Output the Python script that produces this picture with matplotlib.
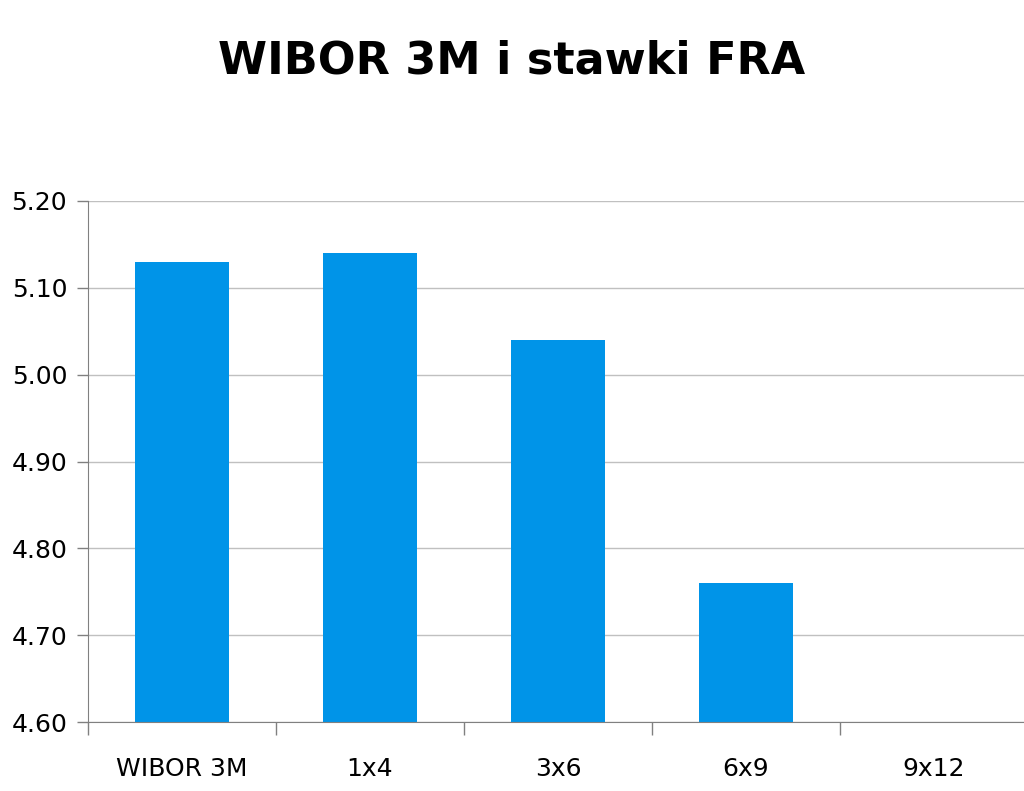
import numpy as np
import matplotlib
matplotlib.use("Agg")
from matplotlib import pyplot as plt

categories = ["WIBOR 3M", "1x4", "3x6", "6x9", "9x12"]
values = [5.13, 5.14, 5.04, 4.76, 4.60]
yticks = [4.60, 4.70, 4.80, 4.90, 5.00, 5.10, 5.20]

plt.rcParams['font.family'] = ['DejaVu Sans']

fig = plt.figure(figsize=(10.24, 7.91), dpi=100)
ax = fig.add_axes([88 / 1024, 69 / 791, 940 / 1024, 521 / 791])

x = np.arange(len(categories))
ax.bar(x, values, width=0.5, color='#0094E8', zorder=3)

ax.set_ylim(4.60, 5.20)
ax.set_xlim(-0.5, len(categories) - 0.5)
ax.set_yticks(yticks)
ax.set_yticklabels([f"{v:.2f}" for v in yticks], fontsize=18)
ax.grid(axis='y', color='#c0c0c0', linewidth=1, zorder=0)

# category labels without ticks, tick marks between categories
ax.set_xticks(x)
ax.set_xticklabels(categories, fontsize=18)
ax.tick_params(axis='x', length=0, pad=25)
ax.set_xticks(np.arange(len(categories) + 1) - 0.5, minor=True)
ax.tick_params(axis='x', which='minor', length=9, color='#808080', width=1)
ax.tick_params(axis='y', length=8, color='#808080', width=1, pad=7)

for side in ['top', 'right']:
    ax.spines[side].set_visible(False)
for side in ['left', 'bottom']:
    ax.spines[side].set_color('#808080')
    ax.spines[side].set_zorder(4)

fig.text(0.5, 1 - 61 / 791, "WIBOR 3M i stawki FRA", ha='center', va='center',
         fontsize=32, fontweight='bold')

fig.savefig("out.png", dpi=100)
